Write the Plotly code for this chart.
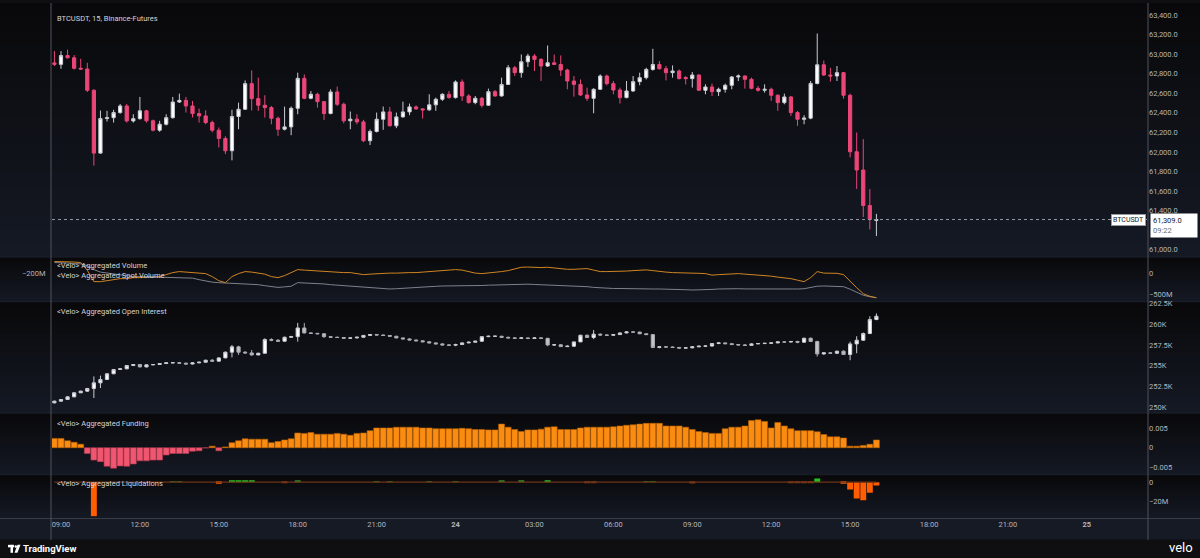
import pandas as pd
import plotly.graph_objects as go

# ---------------- data ----------------
times = pd.date_range("2024-06-23 08:45", periods=126, freq="15min")

price_open = [
    62910, 62895, 62985, 62962, 62855, 62847, 62630, 61988, 62341, 62350,
    62402, 62470, 62317, 62340, 62420, 62318, 62222, 62283, 62350, 62510,
    62527, 62470, 62392, 62368, 62300, 62222, 62138, 62012, 62362, 62436,
    62698, 62545, 62477, 62453, 62344, 62232, 62256, 62446, 62752, 62548,
    62589, 62514, 62392, 62613, 62487, 62318, 62335, 62307, 62114, 62209,
    62334, 62409, 62267, 62358, 62409, 62460, 62440, 62430, 62481, 62538,
    62589, 62555, 62715, 62572, 62504, 62548, 62477, 62616, 62572, 62690,
    62860, 62810, 62921, 62980, 62945, 62878, 62911, 62894, 62837, 62725,
    62690, 62582, 62548, 62640, 62776, 62698, 62633, 62555, 62623, 62718,
    62759, 62843, 62894, 62850, 62810, 62827, 62760, 62749, 62786, 62630,
    62664, 62616, 62640, 62681, 62766, 62776, 62742, 62650, 62630, 62640,
    62579, 62504, 62562, 62402, 62334, 62345, 62700, 62890, 62786, 62776,
    62810, 62579, 62002, 61815, 61452, 61300]
price_high = [
    63030, 63030, 63045, 62990, 62952, 62911, 62640, 62423, 62420, 62430,
    62490, 62490, 62385, 62562, 62430, 62330, 62318, 62385, 62562, 62596,
    62562, 62521, 62443, 62426, 62320, 62250, 62160, 62430, 62504, 62731,
    62833, 62759, 62579, 62470, 62360, 62463, 62464, 62810, 62792, 62623,
    62606, 62521, 62640, 62667, 62504, 62413, 62385, 62328, 62230, 62402,
    62464, 62460, 62402, 62514, 62494, 62475, 62445, 62589, 62555, 62599,
    62623, 62731, 62741, 62589, 62572, 62562, 62647, 62633, 62759, 62888,
    62878, 62996, 63003, 63000, 62960, 63088, 62996, 62986, 62850, 62776,
    62741, 62657, 62650, 62792, 62790, 62725, 62657, 62725, 62776, 62810,
    62860, 63054, 62929, 62878, 62884, 62843, 62776, 62817, 62792, 62691,
    62698, 62657, 62698, 62776, 62792, 62782, 62759, 62674, 62691, 62657,
    62589, 62596, 62572, 62419, 62375, 62725, 63210, 62935, 62860, 62878,
    62817, 62596, 62199, 62131, 61620, 61367]
price_low = [
    62878, 62850, 62955, 62843, 62837, 62613, 61860, 61980, 62310, 62300,
    62390, 62300, 62300, 62330, 62300, 62210, 62206, 62270, 62340, 62500,
    62402, 62352, 62300, 62283, 62200, 62046, 61978, 61914, 62232, 62430,
    62423, 62420, 62352, 62283, 62165, 62220, 62171, 62385, 62538, 62538,
    62453, 62328, 62385, 62470, 62293, 62232, 62283, 62100, 62070, 62199,
    62226, 62260, 62243, 62351, 62375, 62430, 62341, 62420, 62420, 62521,
    62545, 62545, 62521, 62494, 62487, 62453, 62470, 62565, 62565, 62684,
    62776, 62759, 62868, 62827, 62725, 62870, 62890, 62776, 62640, 62565,
    62572, 62521, 62395, 62633, 62680, 62589, 62494, 62548, 62613, 62681,
    62741, 62830, 62843, 62731, 62759, 62741, 62690, 62657, 62623, 62589,
    62572, 62572, 62606, 62640, 62725, 62647, 62640, 62616, 62606, 62521,
    62420, 62487, 62368, 62267, 62283, 62334, 62690, 62776, 62718, 62725,
    62545, 61944, 61622, 61334, 61208, 61140]
price_close = [
    62895, 62985, 62962, 62855, 62847, 62630, 61988, 62341, 62350, 62402,
    62470, 62317, 62340, 62420, 62318, 62222, 62283, 62350, 62510, 62527,
    62470, 62392, 62368, 62300, 62222, 62138, 62012, 62362, 62436, 62698,
    62545, 62477, 62453, 62344, 62232, 62256, 62446, 62752, 62548, 62589,
    62514, 62392, 62613, 62487, 62318, 62335, 62307, 62114, 62209, 62334,
    62409, 62267, 62358, 62409, 62460, 62440, 62430, 62481, 62538, 62589,
    62555, 62715, 62572, 62504, 62548, 62477, 62616, 62572, 62690, 62860,
    62810, 62921, 62980, 62945, 62878, 62911, 62894, 62837, 62725, 62690,
    62582, 62548, 62640, 62776, 62698, 62633, 62555, 62623, 62718, 62759,
    62843, 62894, 62850, 62810, 62827, 62749, 62749, 62786, 62630, 62664,
    62616, 62640, 62681, 62766, 62776, 62742, 62650, 62630, 62640, 62579,
    62504, 62562, 62402, 62334, 62345, 62700, 62890, 62786, 62776, 62810,
    62579, 62002, 61815, 61452, 61309, 61309]

# aggregated volume lines (millions)
agg_volume = [
    286, 286, 274, 274, 262, 80, -190, -190, -167, -143,
    -119, -119, -95, -95, -83, -71, -71, -24, 24, 48,
    36, 24, 12, 0, -71, -167, -214, -71, 0, 48,
    36, 12, -12, -71, -95, -48, 24, 95, 83, 71,
    71, 60, 48, 36, 24, 24, 0, -24, -12, 0,
    0, 12, 12, 24, 24, 24, 36, 48, 60, 71,
    88, 95, 83, 48, 12, 0, 12, 24, 48, 71,
    119, 150, 155, 143, 143, 150, 131, 119, 102, 102,
    119, 119, 83, 48, 48, 48, 48, 60, 71, 83,
    88, 71, 48, 36, 24, 24, 24, 12, 7, 0,
    -36, -24, -12, 0, 0, -12, -24, -36, -40, -60,
    -83, -95, -119, -155, -190, -95, 48, 12, 7, 7,
    -24, -190, -333, -476, -536, -571]
spot_volume = [
    262, 262, 250, 238, 231, 190, 95, 36, 12, -12,
    -36, -60, -71, -71, -76, -81, -86, -88, -88, -88,
    -88, -107, -143, -179, -202, -214, -221, -228, -238, -243,
    -248, -262, -286, -309, -326, -314, -298, -214, -219, -226,
    -231, -245, -262, -274, -286, -298, -314, -326, -338, -350,
    -357, -364, -357, -345, -333, -326, -319, -309, -300, -293,
    -293, -293, -293, -286, -286, -281, -274, -269, -262, -252,
    -248, -245, -250, -257, -262, -269, -276, -286, -293, -293,
    -298, -309, -326, -338, -350, -352, -352, -357, -357, -357,
    -362, -364, -364, -364, -369, -376, -381, -388, -388, -381,
    -374, -364, -357, -357, -357, -362, -364, -369, -371, -374,
    -374, -371, -369, -364, -357, -333, -298, -293, -293, -293,
    -309, -369, -440, -512, -547, -571]

# aggregated open interest (thousands)
oi_open = [
    250.52, 250.72, 250.92, 251.24, 251.73, 251.93, 252.25, 252.93, 253.33, 254.02,
    254.54, 254.62, 255.02, 255.14, 254.85, 255.10, 255.14, 255.26, 255.34, 255.36,
    255.30, 255.20, 255.34, 255.42, 255.66, 255.55, 255.94, 256.63, 257.27, 256.63,
    256.54, 256.30, 256.50, 258.15, 258.07, 257.95, 258.43, 258.50, 259.55, 258.95,
    258.90, 258.85, 258.50, 258.43, 258.40, 258.31, 258.35, 258.43, 258.65, 258.76,
    258.70, 258.64, 258.55, 258.35, 258.23, 258.10, 258.00, 257.88, 257.75, 257.63,
    257.50, 257.47, 257.55, 257.75, 257.83, 257.95, 258.50, 258.55, 258.55, 258.42,
    258.35, 258.30, 258.35, 258.28, 258.35, 258.30, 257.50, 257.52, 257.30, 257.35,
    257.87, 258.67, 258.40, 258.80, 258.70, 258.67, 258.75, 258.95, 259.07, 259.05,
    258.85, 258.75, 257.20, 257.27, 257.25, 257.20, 257.12, 257.15, 257.27, 257.35,
    257.37, 257.67, 257.75, 257.65, 257.55, 257.50, 257.45, 257.63, 257.67, 257.70,
    257.75, 257.87, 257.85, 257.92, 257.83, 258.31, 257.92, 256.42, 256.55, 256.50,
    256.75, 256.35, 257.63, 258.07, 258.88, 260.56]
oi_high = [
    250.78, 250.98, 251.30, 251.78, 251.98, 252.32, 253.70, 253.80, 254.10, 254.60,
    254.68, 255.08, 255.20, 255.20, 255.16, 255.20, 255.30, 255.40, 255.42, 255.45,
    255.38, 255.40, 255.48, 255.72, 255.80, 256.00, 256.70, 257.50, 257.40, 256.75,
    256.90, 256.56, 258.30, 258.30, 258.20, 258.50, 258.60, 260.16, 260.16, 259.00,
    258.95, 258.90, 258.55, 258.50, 258.45, 258.40, 258.50, 258.70, 258.80, 258.80,
    258.75, 258.68, 258.60, 258.40, 258.30, 258.15, 258.05, 257.95, 257.80, 257.70,
    257.60, 257.65, 257.80, 257.90, 258.00, 258.55, 258.62, 258.62, 258.60, 258.50,
    258.42, 258.42, 258.40, 258.40, 258.42, 258.35, 257.60, 257.60, 257.45, 257.90,
    258.72, 258.75, 259.30, 258.90, 258.75, 258.80, 259.00, 259.15, 259.15, 259.10,
    258.90, 258.80, 257.32, 257.35, 257.30, 257.25, 257.20, 257.32, 257.40, 257.42,
    257.72, 257.80, 257.80, 257.70, 257.60, 257.60, 257.70, 257.72, 257.75, 257.80,
    257.92, 257.92, 257.95, 258.00, 258.36, 258.40, 258.00, 256.60, 256.60, 256.80,
    256.85, 257.90, 258.55, 259.00, 260.95, 261.30]
oi_low = [
    250.45, 250.68, 250.88, 251.20, 251.70, 251.85, 251.10, 252.30, 253.28, 253.98,
    254.50, 254.58, 254.95, 254.80, 254.80, 255.05, 255.10, 255.20, 255.28, 255.25,
    255.15, 255.15, 255.30, 255.38, 255.50, 255.50, 255.90, 256.00, 256.30, 256.45,
    256.20, 256.25, 256.45, 257.95, 257.90, 257.90, 258.40, 257.90, 258.90, 258.85,
    258.80, 258.35, 258.35, 258.35, 258.25, 258.25, 258.30, 258.40, 258.60, 258.65,
    258.60, 258.50, 258.30, 258.20, 258.05, 257.95, 257.85, 257.70, 257.60, 257.45,
    257.40, 257.35, 257.50, 257.70, 257.80, 257.90, 258.45, 258.48, 258.38, 258.30,
    258.25, 258.25, 258.20, 258.22, 258.25, 257.35, 257.40, 257.28, 257.25, 257.28,
    257.85, 258.35, 258.20, 258.60, 258.60, 258.60, 258.70, 258.90, 259.00, 258.80,
    258.70, 257.10, 257.10, 257.20, 257.15, 257.05, 257.05, 257.10, 257.25, 257.28,
    257.30, 257.60, 257.60, 257.50, 257.45, 257.40, 257.40, 257.60, 257.60, 257.65,
    257.70, 257.80, 257.80, 257.70, 257.80, 257.85, 256.10, 256.30, 256.45, 256.40,
    256.30, 255.66, 256.50, 258.00, 258.80, 260.50]
oi_close = [
    250.72, 250.92, 251.24, 251.73, 251.93, 252.25, 252.93, 253.33, 254.02, 254.54,
    254.62, 255.02, 255.14, 254.85, 255.10, 255.14, 255.26, 255.34, 255.36, 255.30,
    255.20, 255.34, 255.42, 255.66, 255.55, 255.94, 256.63, 257.27, 256.63, 256.54,
    256.30, 256.50, 258.15, 258.07, 257.95, 258.43, 258.50, 259.55, 258.95, 258.90,
    258.85, 258.50, 258.43, 258.40, 258.31, 258.35, 258.43, 258.65, 258.76, 258.70,
    258.64, 258.55, 258.35, 258.23, 258.10, 258.00, 257.88, 257.75, 257.63, 257.50,
    257.47, 257.55, 257.75, 257.83, 257.95, 258.50, 258.55, 258.55, 258.42, 258.35,
    258.30, 258.35, 258.28, 258.35, 258.30, 257.50, 257.52, 257.30, 257.35, 257.87,
    258.67, 258.40, 258.80, 258.70, 258.67, 258.75, 258.95, 259.07, 259.05, 258.85,
    258.75, 257.20, 257.27, 257.25, 257.20, 257.12, 257.15, 257.27, 257.35, 257.37,
    257.67, 257.75, 257.65, 257.55, 257.50, 257.45, 257.63, 257.67, 257.70, 257.75,
    257.87, 257.85, 257.92, 257.83, 258.31, 257.92, 256.42, 256.55, 256.50, 256.75,
    256.35, 257.63, 258.07, 258.88, 260.56, 260.96]

# aggregated funding
funding = [
    0.0024, 0.0024, 0.0018, 0.0014, 0.0009, -0.0015, -0.0032, -0.0036, -0.0048, -0.0053,
    -0.0047, -0.0048, -0.0042, -0.0034, -0.0034, -0.0032, -0.0032, -0.0019, -0.0015, -0.0015,
    -0.0015, -0.0009, -0.0008, -0.0001, 0.0004, -0.0008, 0.0002, 0.0013, 0.0018, 0.0023,
    0.0022, 0.0022, 0.0022, 0.0013, 0.0016, 0.0020, 0.0023, 0.0038, 0.0037, 0.0039,
    0.0035, 0.0035, 0.0035, 0.0037, 0.0035, 0.0032, 0.0037, 0.0038, 0.0044, 0.0051,
    0.0051, 0.0051, 0.0053, 0.0053, 0.0053, 0.0053, 0.0051, 0.0051, 0.0049, 0.0049,
    0.0049, 0.0049, 0.0050, 0.0049, 0.0047, 0.0047, 0.0046, 0.0046, 0.0061, 0.0053,
    0.0047, 0.0042, 0.0046, 0.0046, 0.0048, 0.0053, 0.0054, 0.0047, 0.0047, 0.0047,
    0.0051, 0.0053, 0.0053, 0.0053, 0.0053, 0.0054, 0.0056, 0.0058, 0.0059, 0.0061,
    0.0063, 0.0063, 0.0063, 0.0056, 0.0056, 0.0056, 0.0053, 0.0047, 0.0042, 0.0039,
    0.0037, 0.0037, 0.0049, 0.0053, 0.0053, 0.0056, 0.0070, 0.0072, 0.0068, 0.0051,
    0.0065, 0.0056, 0.0049, 0.0044, 0.0044, 0.0044, 0.0041, 0.0034, 0.0028, 0.0028,
    0.0025, 0.0004, 0.0004, 0.0006, 0.0009, 0.0020]

# aggregated liquidations (millions): longs negative, shorts positive
liq_long = [
    0, 0, 0, 0, 0, 0, -34.6, 0, 0, 0,
    0, 0, 0, 0, 0, 0, 0, 0, 0, 0,
    0, 0, 0, 0, 0, -1.5, 0, 0, 0, 0,
    0, 0, 0, 0, 0, -0.8, 0, 0, 0, 0,
    0, 0, 0, 0, 0, 0, 0, 0, 0, 0,
    0, 0, 0, 0, 0, 0, 0, 0, 0, 0,
    0, 0, 0, 0, 0, 0, 0, 0, 0, 0,
    0, 0, 0, 0, 0, 0, 0, 0, 0, 0,
    0, -1.0, -1.0, 0, 0, 0, 0, 0, 0, 0,
    0, 0, 0, 0, 0, 0, 0, -1.2, 0, 0,
    0, 0, 0, 0, 0, 0, 0, 0, 0, 0,
    0, 0, -0.9, -0.9, -0.9, -0.9, 0, 0, 0, 0,
    -1.5, -7.5, -16.6, -18.3, -10.8, -3.4]
liq_short = [
    0, 0, 0, 0, 0, 0, 0, 0, 0, 0,
    0, 0, 0, 0, 0, 0, 0, 0, 0.9, 0.9,
    0, 0, 0, 0, 0, 0, 0, 1.3, 1.3, 1.3,
    1.3, 0, 0, 0, 0, 0, 0, 1.0, 0, 0,
    0, 0, 0, 0, 0, 0, 0, 0, 0, 0.6,
    0, 0.6, 0, 0, 0, 0, 0, 0.7, 0, 0,
    0, 0.8, 0, 0, 0, 0, 0, 0, 1.0, 0,
    0, 1.0, 0, 0, 0, 1.5, 0, 0, 0, 0,
    0, 0, 0, 0, 0, 0, 0, 0, 0, 0,
    0.8, 0.6, 0, 0, 0, 0, 0, 0, 0, 0,
    0, 0, 0, 0, 0, 0, 0, 0, 0, 0,
    0, 0, 0, 0, 0, 0, 3.7, 0, 0, 0,
    0, 0, 0, 0, 0, 0]

x_tick_times = pd.date_range("2024-06-23 09:00", "2024-06-25 00:00", freq="3h")
x_tick_text = ["09:00", "12:00", "15:00", "18:00", "21:00", "<b>24</b>", "03:00",
               "06:00", "09:00", "12:00", "15:00", "18:00", "21:00", "<b>25</b>"]
# 61,200.0 is hidden behind the last-price label in the reference
price_ticks = [61000, 61400, 61600, 61800, 62000, 62200, 62400,
               62600, 62800, 63000, 63200, 63400]
vol_ticks = [0, -500]
vol_tick_text = ["0", "\u2212500M"]
oi_ticks = [250, 252.5, 255, 257.5, 260, 262.5]
oi_tick_text = ["250K", "252.5K", "255K", "257.5K", "260K", "262.5K"]
fund_ticks = [0.005, 0, -0.005]
fund_tick_text = ["0.005", "0", "\u22120.005"]
liq_ticks = [0, -20]
liq_tick_text = ["0", "\u221220M"]

# ---------------- geometry helpers (pixels -> paper) ----------------
W, H = 1200, 558
L_M, R_M, T_M, B_M = 52, 52, 0, 40
PW, PH = W - L_M - R_M, H - T_M - B_M


def px(x):
    return (x - L_M) / PW


def py(y):
    return (PH - (y - T_M)) / PH


FONT = "Roboto"
TICK_COL = "#B2B5BE"
TXT_COL = "#D1D4DC"

fig = go.Figure()

# price candles
fig.add_trace(go.Candlestick(
    x=times, open=price_open, high=price_high, low=price_low, close=price_close,
    xaxis="x", yaxis="y", whiskerwidth=0, hoverinfo="skip", showlegend=False,
    increasing=dict(line=dict(color="#C9CCD3", width=1), fillcolor="#FFFFFF"),
    decreasing=dict(line=dict(color="#EC4678", width=1), fillcolor="#EC4678")))

# volume lines
fig.add_trace(go.Scatter(x=times, y=spot_volume, mode="lines", xaxis="x", yaxis="y2",
                         line=dict(color="#7D818C", width=1), hoverinfo="skip", showlegend=False))
fig.add_trace(go.Scatter(x=times, y=agg_volume, mode="lines", xaxis="x", yaxis="y2",
                         line=dict(color="#D08522", width=1), hoverinfo="skip", showlegend=False))

# open interest candles
fig.add_trace(go.Candlestick(
    x=times, open=oi_open, high=oi_high, low=oi_low, close=oi_close,
    xaxis="x", yaxis="y3", whiskerwidth=0, hoverinfo="skip", showlegend=False,
    increasing=dict(line=dict(color="#C9CCD3", width=1), fillcolor="#FFFFFF"),
    decreasing=dict(line=dict(color="#A9ACB4", width=1), fillcolor="#C3C5CB")))

# funding bars
fund_cols = ["#FB8C12" if v >= 0 else "#F0566F" for v in funding]
fund_line = ["#B86200" if v >= 0 else "#B23A52" for v in funding]
fig.add_trace(go.Bar(x=times, y=funding, xaxis="x", yaxis="y4",
                     marker=dict(color=fund_cols, line=dict(color=fund_line, width=0.6)),
                     hoverinfo="skip", showlegend=False))

# liquidations
fig.add_trace(go.Scatter(x=times, y=[0] * len(times), mode="lines", xaxis="x", yaxis="y5",
                         line=dict(color="#6E3217", width=1.3), hoverinfo="skip", showlegend=False))
long_cols = ["#FF5D00" if abs(v) >= 1.3 else "#8A3A14" for v in liq_long]
fig.add_trace(go.Bar(x=times, y=liq_long, xaxis="x", yaxis="y5",
                     marker=dict(color=long_cols, line=dict(width=0)),
                     hoverinfo="skip", showlegend=False))
short_cols = ["#1FC41F" if v >= 1.2 else "#2F8A2A" for v in liq_short]
fig.add_trace(go.Bar(x=times, y=liq_short, xaxis="x", yaxis="y5",
                     marker=dict(color=short_cols, line=dict(width=0)),
                     hoverinfo="skip", showlegend=False))

# ---------------- backgrounds ----------------
shapes = []
panes = [(0, 255.5), (255.5, 300.5), (300.5, 412.5), (412.5, 474.5), (474.5, 518)]
top_c, bot_c = (9, 9, 11), (21, 25, 36)
for a, b in panes:
    n = 18
    for k in range(n):
        t = (k + 0.5) / n
        c = tuple(round(top_c[i] + (bot_c[i] - top_c[i]) * t) for i in range(3))
        y0 = a + (b - a) * k / n
        y1 = a + (b - a) * (k + 1) / n + 0.6
        shapes.append(dict(type="rect", xref="paper", yref="paper", layer="below",
                           x0=px(0), x1=px(W), y0=py(min(y1, b)), y1=py(y0),
                           fillcolor="rgb(%d,%d,%d)" % c, line=dict(width=0)))
# x-axis strip and footer
shapes.append(dict(type="rect", xref="paper", yref="paper", layer="below",
                   x0=px(0), x1=px(W), y0=py(540), y1=py(518),
                   fillcolor="#161A25", line=dict(width=0)))
shapes.append(dict(type="rect", xref="paper", yref="paper", layer="below",
                   x0=px(0), x1=px(W), y0=py(H), y1=py(540),
                   fillcolor="#0F0F11", line=dict(width=0)))
# separators
for ys in [255.5, 300.5, 412.5, 474.5]:
    shapes.append(dict(type="line", xref="paper", yref="paper", layer="below",
                       x0=px(0), x1=px(W), y0=py(ys), y1=py(ys),
                       line=dict(color="#1E222C", width=1)))
shapes.append(dict(type="line", xref="paper", yref="paper", layer="above",
                   x0=px(0), x1=px(W), y0=py(518.5), y1=py(518.5),
                   line=dict(color="#3A3E48", width=1)))
# vertical borders
for xs in [51, 1148]:
    shapes.append(dict(type="line", xref="paper", yref="paper", layer="above",
                       x0=px(xs), x1=px(xs), y0=py(540), y1=py(0),
                       line=dict(color="#50535E", width=1)))
# current price dotted line
shapes.append(dict(type="line", xref="paper", yref="y", layer="above",
                   x0=0, x1=1, y0=price_close[-1], y1=price_close[-1],
                   line=dict(color="#9598A1", width=1, dash="dot")))
# TradingView logo (simple glyph)
shapes.append(dict(type="rect", xref="paper", yref="paper", layer="above",
                   x0=px(8), x1=px(14), y0=py(547.5), y1=py(545),
                   fillcolor="#FFFFFF", line=dict(width=0)))
shapes.append(dict(type="rect", xref="paper", yref="paper", layer="above",
                   x0=px(10.5), x1=px(13), y0=py(553), y1=py(545),
                   fillcolor="#FFFFFF", line=dict(width=0)))
shapes.append(dict(type="circle", xref="paper", yref="paper", layer="above",
                   x0=px(14.5), x1=px(17), y0=py(548), y1=py(545.5),
                   fillcolor="#FFFFFF", line=dict(width=0)))
shapes.append(dict(type="path", xref="paper", yref="paper", layer="above",
                   path="M %f,%f L %f,%f L %f,%f L %f,%f Z" % (
                       px(17.5), py(545), px(20.5), py(545), px(17.5), py(553), px(14.5), py(553)),
                   fillcolor="#FFFFFF", line=dict(width=0)))

# ---------------- annotations ----------------
ann = []


def label(text, x, y, size=7.5, color=TXT_COL, xanchor="left", **kw):
    d = dict(text=text, xref="paper", yref="paper", x=px(x), y=py(y), showarrow=False,
             xanchor=xanchor, yanchor="middle", font=dict(family=FONT, size=size, color=color))
    d.update(kw)
    ann.append(d)


label("BTCUSDT, 15, Binance-Futures", 55, 16)
label("&lt;Velo&gt; Aggregated Volume", 55, 264.5)
label("&lt;Velo&gt; Aggregated Spot Volume", 55, 274.5)
label("&lt;Velo&gt; Aggregated Open Interest", 55, 310)
label("&lt;Velo&gt; Aggregated Funding", 55, 422.5)
label("&lt;Velo&gt; Aggregated Liquidations", 55, 483)
label("\u2212200M", 47, 272.5, color=TICK_COL, xanchor="right")
label("<b>TradingView</b>", 21, 549, size=9.5, color="#FFFFFF")
label("velo", 1195, 548, size=13, color="#FFFFFF", xanchor="right")

# price label boxes
ann.append(dict(text="BTCUSDT", xref="paper", yref="y", x=px(1146), y=price_close[-1],
                xanchor="right", yanchor="middle", showarrow=False,
                font=dict(family=FONT, size=7, color="#131722"),
                bgcolor="#FFFFFF", bordercolor="#9598A1", borderwidth=1, borderpad=1))
ann.append(dict(text="%s<br><span style='color:#6A6D78'>09:22</span>" % f"{price_close[-1]:,.1f}",
                xref="paper", yref="y", x=px(1149.5), y=price_close[-1],
                xanchor="left", yanchor="top", yshift=7, align="left", showarrow=False,
                font=dict(family=FONT, size=7.5, color="#131722"),
                bgcolor="#FFFFFF", borderpad=2, width=42))

# ---------------- axes ----------------
def yax(domain, rng, tickvals, ticktext=None, fmt=None):
    d = dict(domain=domain, range=rng, side="right", anchor="x", showgrid=False, zeroline=False,
             showline=False, ticks="", tickvals=tickvals,
             tickfont=dict(family=FONT, size=7.5, color=TICK_COL), fixedrange=True)
    if ticktext is not None:
        d["ticktext"] = ticktext
    if fmt is not None:
        d["tickformat"] = fmt
    return d


fig.update_layout(
    width=W, height=H,
    margin=dict(l=L_M, r=R_M, t=T_M, b=B_M),
    paper_bgcolor="#0F0F11", plot_bgcolor="rgba(0,0,0,0)",
    showlegend=False, barmode="relative", bargap=0.1,
    xaxis=dict(type="date", range=["2024-06-23 08:39:30", "2024-06-25 02:19:30"],
               anchor="y5", showgrid=False, zeroline=False, showline=False,
               tickvals=x_tick_times, ticktext=x_tick_text, ticks="",
               tickfont=dict(family=FONT, size=7.5, color=TICK_COL),
               rangeslider=dict(visible=False), fixedrange=True),
    yaxis=yax([py(255.5), 1.0], [60926, 63522], price_ticks, fmt=",.1f"),
    yaxis2=yax([py(300.5), py(256)], [-666, 381], vol_ticks, vol_tick_text),
    yaxis3=yax([py(412.5), py(301)], [249.28, 262.65], oi_ticks, oi_tick_text),
    yaxis4=yax([py(474.5), py(413)], [-0.00699, 0.00881], fund_ticks, fund_tick_text),
    yaxis5=yax([0, py(475)], [-36.5, 7.1], liq_ticks, liq_tick_text),
    shapes=shapes, annotations=ann,
)

fig.write_html("out.html", config={"displayModeBar": False},
               post_script="document.body.style.margin='0px';document.body.style.overflow='hidden';")
